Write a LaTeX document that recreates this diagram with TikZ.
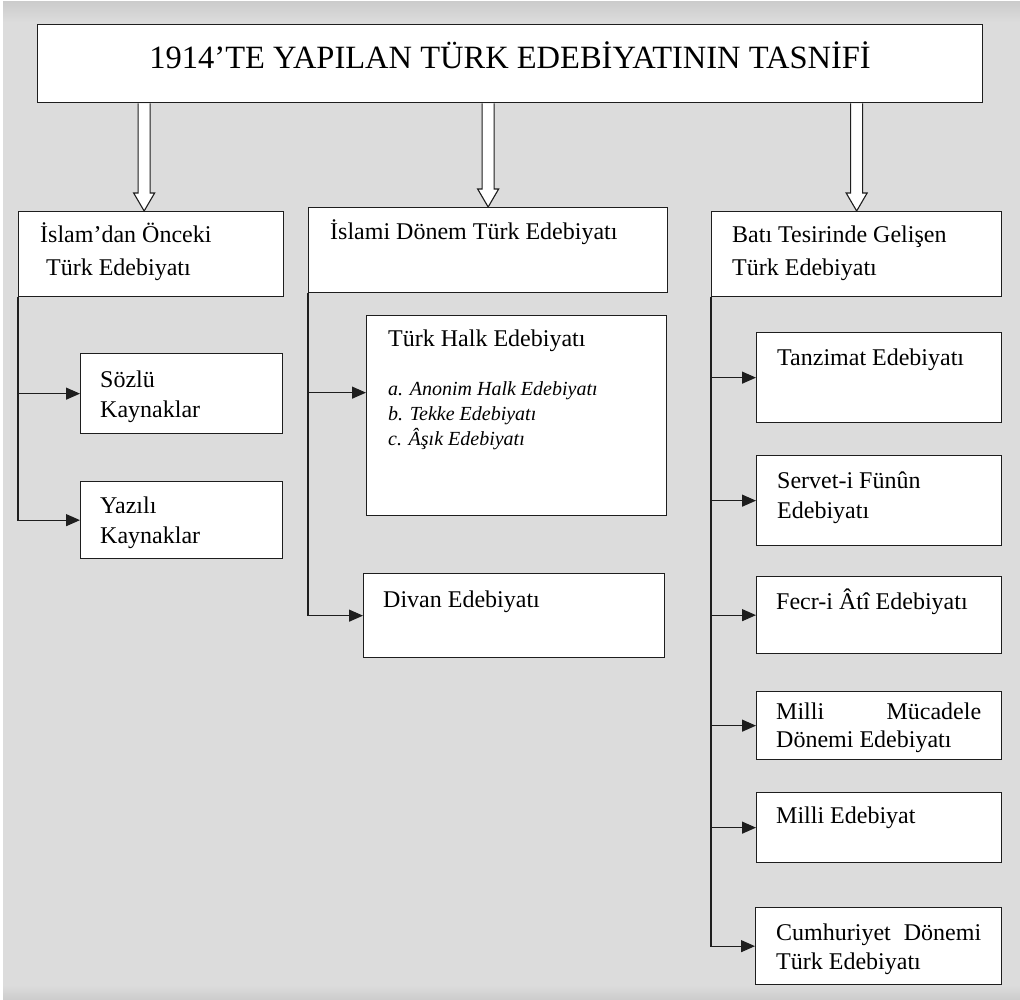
\documentclass[tikz,border=0pt]{standalone}
\usepackage{fontspec}
\setmainfont{Liberation Serif}
\usetikzlibrary{arrows.meta, calc}
\definecolor{bg}{RGB}{220,220,220}
\definecolor{bgedge}{RGB}{204,204,204}
\definecolor{edge}{RGB}{30,30,30}
\tikzstyle{box} = [rectangle, draw=edge, fill=white, line width=1.3pt, anchor=north west, inner sep=0pt]
\tikzstyle{txt} = [anchor=base west, inner sep=0pt, align=left, font=\fontsize{24}{30}\selectfont]
\tikzstyle{txthead} = [txt, font=\fontsize{24}{33}\selectfont]
\tikzstyle{itxt} = [txt, font=\fontsize{20}{25}\selectfont\itshape]
\tikzstyle{arrow} = [line width=1.2pt, draw=edge, -{Triangle[length=14pt, width=12pt]}]
\tikzstyle{hollow} = [draw=edge, fill=white, line width=1.1pt, to path={let \p1=(\tikztostart), \p2=(\tikztotarget) in
  (\x1-6pt,\y1) -- (\x1-6pt,\y2+18pt) -- (\x1-10.5pt,\y2+18pt) -- (\x2,\y2) -- (\x1+10.5pt,\y2+18pt) -- (\x1+6pt,\y2+18pt) -- (\x1+6pt,\y1)}]

\begin{document}
\begin{tikzpicture}[x=1pt, y=-1pt]
  % background
  \useasboundingbox (0,0) rectangle (1020,1000);
  \fill[white] (0,0) rectangle (1020,1000);
  \fill[bg] (3,2) rectangle (1020,1000);
  \shade[top color=bgedge, bottom color=bg] (3,2) rectangle (1020,22);
  \shade[top color=bg, bottom color=bgedge] (3,985) rectangle (1020,1000);

  % title
  \node (title) [box, minimum width=945pt, minimum height=78pt, text height=21pt, text depth=12pt, font=\fontsize{32.5}{35}\selectfont] at (37,24) {1914’TE YAPILAN TÜRK EDEBİYATININ TASNİFİ};

  % main groups
  \node (islam1) [box, minimum width=265pt, minimum height=85pt] at (18,211) {};
  \node (islam2) [box, minimum width=359pt, minimum height=85pt] at (308,207) {};
  \node (bati) [box, minimum width=290pt, minimum height=85pt] at (711,211) {};
  \node [txthead] at ([shift={(22,65)}]islam1.north west) {İslam’dan Önceki\\\ Türk Edebiyatı};
  \node [txthead] at ([shift={(22,33)}]islam2.north west) {İslami Dönem Türk Edebiyatı};
  \node [txthead] at ([shift={(21,65)}]bati.north west) {Batı Tesirinde Gelişen\\Türk Edebiyatı};

  \coordinate (a1) at ([xshift=-7pt]islam1.north);
  \draw [hollow] (title.south -| a1) to (a1);
  \draw [hollow] (title.south -| islam2.north) to (islam2.north);
  \draw [hollow] (title.south -| bati.north) to (bati.north);

  % left column
  \node (sozlu) [box, minimum width=202pt, minimum height=80pt] at (80,353) {};
  \node (yazili) [box, minimum width=202pt, minimum height=77pt] at (80,481) {};
  \node [txt] at ([shift={(20,64)}]sozlu.north west) {Sözlü\\Kaynaklar};
  \node [txt] at ([shift={(20,62)}]yazili.north west) {Yazılı\\Kaynaklar};
  \draw [arrow] (islam1.south west) |- (sozlu.west);
  \draw [arrow] (islam1.south west) |- (yazili.west);

  % middle column
  \node (halk) [box, minimum width=300pt, minimum height=200pt] at (366,315) {};
  \node (divan) [box, minimum width=301pt, minimum height=84pt] at (363,573) {};
  \node [txt] at ([shift={(22,31)}]halk.north west) {Türk Halk Edebiyatı};
  \node [itxt] at ([shift={(22,130)}]halk.north west) {a. Anonim Halk Edebiyatı\\b. Tekke Edebiyatı\\c. Âşık Edebiyatı};
  \node [txt] at ([shift={(20,34)}]divan.north west) {Divan Edebiyatı};
  \draw [arrow] (islam2.south west) |- ([yshift=23pt]halk.west);
  \draw [arrow] (islam2.south west) |- (divan.west);

  % right column
  \node (tanzimat) [box, minimum width=245pt, minimum height=90pt] at (756,332) {};
  \node (servet) [box, minimum width=245pt, minimum height=90pt] at (756,455) {};
  \node (fecr) [box, minimum width=245pt, minimum height=77pt] at (756,576) {};
  \node (mucadele) [box, minimum width=245pt, minimum height=68pt] at (756,691) {};
  \node (milli) [box, minimum width=245pt, minimum height=70pt] at (756,792) {};
  \node (cumhuriyet) [box, minimum width=246pt, minimum height=77pt] at (755,907) {};
  \node [txt] at ([shift={(21,33)}]tanzimat.north west) {Tanzimat Edebiyatı};
  \node [txt] at ([shift={(21,63)}]servet.north west) {Servet-i Fünûn\\Edebiyatı};
  \node [txt] at ([shift={(20,33)}]fecr.north west) {Fecr-i Âtî Edebiyatı};
  \node [txt, font=\fontsize{24}{28}\selectfont] at ([shift={(20,56)}]mucadele.north west) {\makebox[205pt][s]{Milli Mücadele}\\Dönemi Edebiyatı};
  \node [txt] at ([shift={(20,31)}]milli.north west) {Milli Edebiyat};
  \node [txt, font=\fontsize{24}{29}\selectfont] at ([shift={(21,62)}]cumhuriyet.north west) {\makebox[205pt][s]{Cumhuriyet Dönemi}\\Türk Edebiyatı};
  \draw [arrow] (bati.south west) |- (tanzimat.west);
  \draw [arrow] (bati.south west) |- (servet.west);
  \draw [arrow] (bati.south west) |- (fecr.west);
  \draw [arrow] (bati.south west) |- (mucadele.west);
  \draw [arrow] (bati.south west) |- (milli.west);
  \draw [arrow] (bati.south west) |- (cumhuriyet.west);
\end{tikzpicture}
\end{document}
